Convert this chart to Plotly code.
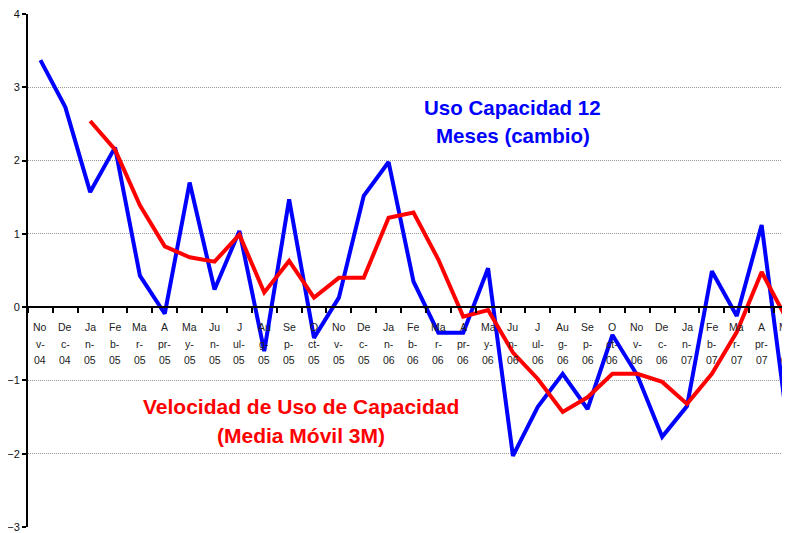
import plotly.graph_objects as go

# months Nov-04 .. May-07
months = ["Nov-04", "Dec-04", "Jan-05", "Feb-05", "Mar-05", "Apr-05", "May-05", "Jun-05",
          "Jul-05", "Aug-05", "Sep-05", "Oct-05", "Nov-05", "Dec-05", "Jan-06", "Feb-06",
          "Mar-06", "Apr-06", "May-06", "Jun-06", "Jul-06", "Aug-06", "Sep-06", "Oct-06",
          "Nov-06", "Dec-06", "Jan-07", "Feb-07", "Mar-07", "Apr-07", "May-07"]

# Excel-style wrapped tick labels (three rows per month)
label_row1 = ["No", "De", "Ja", "Fe", "Ma", "A", "Ma", "Ju", "J", "Au", "Se", "O",
              "No", "De", "Ja", "Fe", "Ma", "A", "Ma", "Ju", "J", "Au", "Se", "O",
              "No", "De", "Ja", "Fe", "Ma", "A", "Ma"]
label_row2 = ["v-", "c-", "n-", "b-", "r-", "pr-", "y-", "n-", "ul-", "g-", "p-", "ct-",
              "v-", "c-", "n-", "b-", "r-", "pr-", "y-", "n-", "ul-", "g-", "p-", "ct-",
              "v-", "c-", "n-", "b-", "r-", "pr-", "y-"]
label_row3 = ["04", "04", "05", "05", "05", "05", "05", "05", "05", "05", "05", "05",
              "05", "05", "06", "06", "06", "06", "06", "06", "06", "06", "06", "06",
              "06", "06", "07", "07", "07", "07", "07"]

uso_12m = [3.37, 2.73, 1.57, 2.18, 0.43, -0.09, 1.70, 0.24, 1.04, -0.60, 1.47, -0.42,
           0.13, 1.52, 1.98, 0.35, -0.35, -0.35, 0.53, -2.03, -1.36, -0.91, -1.39, -0.38,
           -0.93, -1.77, -1.35, 0.49, -0.12, 1.12, -1.50]

media_3m = [None, None, 2.54, 2.15, 1.39, 0.83, 0.68, 0.62, 0.99, 0.20, 0.63, 0.13,
            0.40, 0.40, 1.22, 1.29, 0.65, -0.13, -0.04, -0.62, -0.98, -1.43, -1.23, -0.91,
            -0.91, -1.02, -1.32, -0.91, -0.34, 0.48, -0.16]

fig = go.Figure()
fig.add_trace(go.Scatter(x=months, y=uso_12m, mode="lines",
                         line=dict(color="#0000FF", width=4), name="Uso Capacidad 12 Meses"))
fig.add_trace(go.Scatter(x=months, y=media_3m, mode="lines",
                         line=dict(color="#FF0000", width=4), name="Media Movil 3M"))

font = "Liberation Sans, Arial, sans-serif"
# page body has an 8px default margin, so the figure is sized to fill the rest
fig.update_layout(
    width=782, height=525,
    margin=dict(l=20, r=0, t=6, b=6),
    paper_bgcolor="white", plot_bgcolor="white",
    showlegend=False,
    font=dict(family=font, color="black"),
)

fig.update_xaxes(
    type="category", categoryorder="array", categoryarray=months,
    range=[-0.5, 30.14],
    anchor="free", position=3 / 7,
    showline=True, linecolor="black", linewidth=2,
    ticks="outside", tickson="boundaries", ticklen=5, tickcolor="black", tickwidth=2,
    showticklabels=False,
    showgrid=False, zeroline=False, automargin=False,
)
fig.update_yaxes(
    range=[-3, 4], tick0=0, dtick=1,
    showgrid=True, gridcolor="#999999", griddash="1px,1px", gridwidth=1,
    showline=True, linecolor="black", linewidth=2,
    ticks="outside", ticklen=4, tickcolor="black", tickwidth=2,
    tickfont=dict(size=11, color="#111"), ticklabeloverflow="allow",
    zeroline=False, automargin=False,
)

# month labels under the zero axis
for rows, shift in ((label_row1, -20), (label_row2, -36.5), (label_row3, -53)):
    for m, t in zip(months, rows):
        fig.add_annotation(text=t, x=m, y=0, xref="x", yref="y", yshift=shift,
                           showarrow=False, font=dict(size=10.5, color="#222", family=font))

blue_lines = ["Uso Capacidad 12", "Meses (cambio)"]
red_lines = ["Velocidad de Uso de Capacidad", "(Media Móvil 3M)"]
for i, t in enumerate(blue_lines):
    fig.add_annotation(text="<b>%s</b>" % t, xref="paper", yref="paper", x=0.636, y=0.817 - i * 0.0545,
                       xanchor="center", yanchor="middle", showarrow=False,
                       font=dict(size=20.5, color="#0000FF", family=font))
for i, t in enumerate(red_lines):
    fig.add_annotation(text="<b>%s</b>" % t, xref="paper", yref="paper", x=0.358, y=0.234 - i * 0.0565,
                       xanchor="center", yanchor="middle", showarrow=False,
                       font=dict(size=21, color="#FF0000", family=font))

fig.write_html("out.html")
